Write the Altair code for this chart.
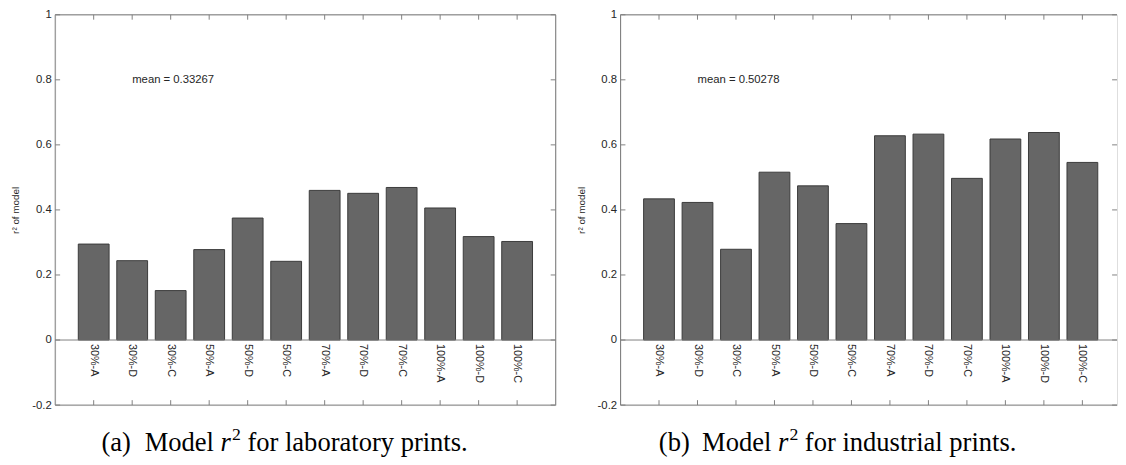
import altair as alt
import pandas as pd

labels = ["30%-A", "30%-D", "30%-C", "50%-A", "50%-D", "50%-C",
          "70%-A", "70%-D", "70%-C", "100%-A", "100%-D", "100%-C"]
lab_r2 = [0.295, 0.244, 0.152, 0.278, 0.375, 0.242,
          0.460, 0.451, 0.469, 0.406, 0.318, 0.303]
ind_r2 = [0.434, 0.423, 0.279, 0.516, 0.474, 0.358,
          0.628, 0.633, 0.497, 0.618, 0.638, 0.546]
y_ticks = [-0.2, 0, 0.2, 0.4, 0.6, 0.8, 1]
mean_lab = "mean = 0.33267"
mean_ind = "mean = 0.50278"

GRAY = "#808080"
TXT = "#262626"
H = 397
FS = 27  # caption font size
one = pd.DataFrame({"k": [0]})

YAXIS = alt.Axis(
    values=y_ticks, labelExpr="toString(round(datum.value*10)/10)",
    ticks=False, domain=False, grid=False, labelFontSize=11.5,
    labelColor=TXT, labelPadding=4, title="r² of model",
    titleFontSize=10, titleFontWeight="normal", titleColor=TXT,
    titlePadding=11, labelFont="Liberation Sans", titleFont="Liberation Sans")


def panel(values, mean_label, tag, rest, width, xmax, right_border, cap_x):
    df = pd.DataFrame({"label": labels, "pos": list(range(1, len(labels) + 1)), "r2": values})
    xs = alt.Scale(domain=[0, xmax], nice=False, zero=False)
    ys = alt.Scale(domain=[-0.2, 1], nice=False, zero=False)

    bars = alt.Chart(df).transform_calculate(
        lo="datum.pos - 0.4", hi="datum.pos + 0.4"
    ).mark_bar(fill="#666666", stroke="#3a3a3a", strokeWidth=1).encode(
        x=alt.X("lo:Q", scale=xs, axis=None),
        x2="hi:Q",
        y=alt.Y("r2:Q", scale=ys, axis=YAXIS),
        y2=alt.datum(0),
    )
    zero = alt.Chart(one).mark_rule(color=GRAY, strokeWidth=1).encode(
        y=alt.datum(0), x=alt.value(0), x2=alt.value(width))
    tk = pd.DataFrame({"t": y_ticks})
    ytick_l = alt.Chart(tk).mark_rule(color=GRAY).encode(
        y=alt.Y("t:Q", scale=ys, axis=YAXIS), x=alt.value(0), x2=alt.value(5))
    ytick_r = alt.Chart(tk).mark_rule(color=GRAY).encode(
        y=alt.Y("t:Q", scale=ys, axis=YAXIS), x=alt.value(width - 5), x2=alt.value(width))
    xtick_t = alt.Chart(df).mark_rule(color=GRAY).encode(
        x=alt.X("pos:Q", scale=xs, axis=None), y=alt.value(0), y2=alt.value(5))
    xtick_b = alt.Chart(df).mark_rule(color=GRAY).encode(
        x=alt.X("pos:Q", scale=xs, axis=None), y=alt.value(H - 5), y2=alt.value(H))
    frame = [
        alt.Chart(one).mark_rule(color=GRAY).encode(x=alt.value(0), x2=alt.value(width), y=alt.value(0)),
        alt.Chart(one).mark_rule(color=GRAY).encode(x=alt.value(0), x2=alt.value(width), y=alt.value(H)),
        alt.Chart(one).mark_rule(color=GRAY).encode(x=alt.value(0), y=alt.value(0), y2=alt.value(H)),
    ]
    if right_border:
        frame.append(alt.Chart(one).mark_rule(color=GRAY).encode(
            x=alt.value(width), y=alt.value(0), y2=alt.value(H)))
    names = alt.Chart(df).mark_text(
        angle=90, align="left", baseline="middle", dx=4, fontSize=11,
        color=TXT, font="Liberation Sans").encode(
        x=alt.X("pos:Q", scale=xs, axis=None), y=alt.datum(0), text="label:N")
    mean = alt.Chart(one).mark_text(
        align="left", baseline="middle", fontSize=11.5, color=TXT,
        font="Liberation Sans", text=mean_label).encode(
        x=alt.datum(2), y=alt.datum(0.8))

    cy = H + 47
    em = FS
    x_model = cap_x + 44
    x_r = x_model + (2.611 + 0.25) * em
    x_2 = x_r + 0.389 * em + 1
    x_rest = x_2 + 0.5 * 18 + 0.25 * em
    serif = "Liberation Serif"
    cap = [
        alt.Chart(one).mark_text(align="left", baseline="alphabetic", fontSize=FS, font=serif,
                                 color="black", text=tag).encode(x=alt.value(cap_x), y=alt.value(cy)),
        alt.Chart(one).mark_text(align="left", baseline="alphabetic", fontSize=FS, font=serif,
                                 color="black", text="Model").encode(x=alt.value(x_model), y=alt.value(cy)),
        alt.Chart(one).mark_text(align="left", baseline="alphabetic", fontSize=FS, font=serif,
                                 fontStyle="italic", color="black", text="r").encode(
            x=alt.value(x_r), y=alt.value(cy)),
        alt.Chart(one).mark_text(align="left", baseline="alphabetic", fontSize=18, font=serif,
                                 color="black", text="2").encode(x=alt.value(x_2), y=alt.value(cy - 11)),
        alt.Chart(one).mark_text(align="left", baseline="alphabetic", fontSize=FS, font=serif,
                                 color="black", text=rest).encode(x=alt.value(x_rest), y=alt.value(cy)),
    ]
    return alt.layer(bars, zero, ytick_l, ytick_r, xtick_t, xtick_b, *frame, names, mean, *cap).properties(
        width=width, height=H)


left = panel(lab_r2, mean_lab, "(a)", "for laboratory prints.", 509, 13, True, 47)
right = panel(ind_r2, mean_ind, "(b)", "for industrial prints.", 505, 12.9, False, 39)

chart = alt.hconcat(left, right, spacing=19).properties(
    padding={"top": -4, "left": 2, "right": 0, "bottom": 0}
).configure_view(stroke="transparent").configure(font="Liberation Sans")

chart.save("out.html", embed_options={"renderer": "svg", "actions": False})
